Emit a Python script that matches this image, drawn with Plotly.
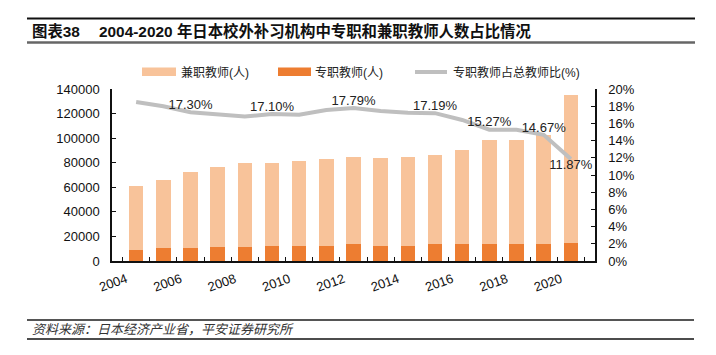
import plotly.graph_objects as go

years = [str(y) for y in range(2004, 2021)]
year_tick_text = [y if int(y) % 2 == 0 else "" for y in years]

fulltime = [9200, 10300, 10300, 11400, 11400, 12500, 12500, 12500, 13600,
            12500, 12500, 13600, 13600, 13600, 13600, 13600, 14400]
parttime = [51800, 55700, 62400, 65400, 68100, 67000, 69200, 70300, 71100,
            71100, 71900, 73000, 77000, 84900, 84900, 89000, 120700]
ratio = [0.185, 0.180, 0.1730, 0.170, 0.168, 0.1710, 0.170, 0.1755, 0.1779,
         0.1745, 0.1725, 0.1719, 0.164, 0.1527, 0.1527, 0.1467, 0.1187]
ratio_labels = ["", "", "17.30%", "", "", "17.10%", "", "", "17.79%", "", "",
                "17.19%", "", "15.27%", "", "14.67%", "11.87%"]
label_pos = ["top center"] * 16 + ["bottom center"]

left_ticks = [0, 20000, 40000, 60000, 80000, 100000, 120000, 140000]
right_ticks = [0, 0.02, 0.04, 0.06, 0.08, 0.10, 0.12, 0.14, 0.16, 0.18, 0.20]

LIGHT = "#F8C39A"
DARK = "#ED7D31"
GRAY = "#BFBFBF"
FONT = "Liberation Sans, Arial, Noto Sans CJK SC"

W, H = 716, 355
L, R, T, B = 112, 595, 89, 261


def xp(px):
    return (px - L) / (R - L)


def yp(py):
    return (B - py) / (B - T)


fig = go.Figure()
fig.add_trace(go.Bar(x=years, y=fulltime, name="专职教师(人)",
                     marker=dict(color=DARK, line=dict(width=0)),
                     showlegend=False))
fig.add_trace(go.Bar(x=years, y=parttime, name="兼职教师(人)",
                     marker=dict(color=LIGHT, line=dict(width=0)),
                     showlegend=False))
fig.add_trace(go.Scatter(x=years, y=ratio, name="专职教师占总教师比(%)",
                         yaxis="y2", mode="lines+text",
                         line=dict(color=GRAY, width=4),
                         text=ratio_labels, textposition=label_pos,
                         textfont=dict(size=13, color="#222", family=FONT),
                         showlegend=False, cliponaxis=False))

shapes = []
annotations = []

# title rules
shapes.append(dict(type="line", xref="paper", yref="paper",
                   x0=xp(27), x1=xp(695), y0=yp(18.5), y1=yp(18.5),
                   line=dict(color="#111", width=2)))
shapes.append(dict(type="line", xref="paper", yref="paper",
                   x0=xp(27), x1=xp(695), y0=yp(42.5), y1=yp(42.5),
                   line=dict(color="#666", width=2.5)))
# source rules
shapes.append(dict(type="line", xref="paper", yref="paper",
                   x0=xp(27), x1=xp(694), y0=yp(320), y1=yp(320),
                   line=dict(color="#555", width=2)))
shapes.append(dict(type="line", xref="paper", yref="paper",
                   x0=xp(27), x1=xp(694), y0=yp(339), y1=yp(339),
                   line=dict(color="#111", width=1.5)))

annotations.append(dict(xref="paper", yref="paper", x=xp(30), y=yp(31),
                        xanchor="left", yanchor="middle", showarrow=False,
                        text="<b>图表38</b>",
                        font=dict(size=15.4, color="#111", family=FONT)))
annotations.append(dict(xref="paper", yref="paper", x=xp(97), y=yp(31),
                        xanchor="left", yanchor="middle", showarrow=False,
                        text="<b>2004-2020 年日本校外补习机构中专职和兼职教师人数占比情况</b>",
                        font=dict(size=15.4, color="#111", family=FONT)))
annotations.append(dict(xref="paper", yref="paper", x=xp(30), y=yp(329.5),
                        xanchor="left", yanchor="middle", showarrow=False,
                        text="<i>资料来源：日本经济产业省，平安证券研究所</i>",
                        font=dict(size=13, color="#333", family=FONT)))

# custom legend
shapes.append(dict(type="rect", xref="paper", yref="paper",
                   x0=xp(142), x1=xp(176), y0=yp(76), y1=yp(67.5),
                   fillcolor=LIGHT, line=dict(width=0)))
annotations.append(dict(xref="paper", yref="paper", x=xp(179), y=yp(72),
                        xanchor="left", yanchor="middle", showarrow=False,
                        text="兼职教师(人)",
                        font=dict(size=12, color="#222", family=FONT)))
shapes.append(dict(type="rect", xref="paper", yref="paper",
                   x0=xp(278), x1=xp(311), y0=yp(76), y1=yp(67.5),
                   fillcolor=DARK, line=dict(width=0)))
annotations.append(dict(xref="paper", yref="paper", x=xp(313), y=yp(72),
                        xanchor="left", yanchor="middle", showarrow=False,
                        text="专职教师(人)",
                        font=dict(size=12, color="#222", family=FONT)))
shapes.append(dict(type="line", xref="paper", yref="paper",
                   x0=xp(415), x1=xp(447), y0=yp(72), y1=yp(72),
                   line=dict(color=GRAY, width=4)))
annotations.append(dict(xref="paper", yref="paper", x=xp(451), y=yp(72),
                        xanchor="left", yanchor="middle", showarrow=False,
                        text="专职教师占总教师比(%)",
                        font=dict(size=12, color="#222", family=FONT)))

fig.update_layout(
    width=W, height=H,
    margin=dict(l=L, r=W - R, t=T, b=H - B, pad=0),
    paper_bgcolor="white", plot_bgcolor="white",
    barmode="stack", bargap=0.47,
    font=dict(family=FONT, size=13, color="#111"),
    shapes=shapes, annotations=annotations,
    showlegend=False,
    xaxis=dict(type="category", tickvals=years, ticktext=year_tick_text,
               tickangle=-20, tickson="boundaries", ticks="inside",
               ticklen=4, tickcolor="#111", showline=True, linecolor="#111",
               linewidth=1.5, showgrid=False, zeroline=False,
               ticklabelshift=-10, ticklabelstandoff=4,
               tickfont=dict(size=13, family=FONT)),
    yaxis=dict(range=[0, 140000], tickvals=left_ticks, tickformat="d",
               ticks="inside", ticklen=4, tickcolor="#111",
               showline=True, linecolor="#111", linewidth=1.5,
               showgrid=False, zeroline=False, ticklabelstandoff=8,
               tickfont=dict(size=13, family=FONT)),
    yaxis2=dict(range=[0, 0.20], tickvals=right_ticks, tickformat=".0%",
                overlaying="y", side="right", ticks="inside", ticklen=4,
                tickcolor="#111", showline=True, linecolor="#111",
                linewidth=1.5, showgrid=False, zeroline=False,
                ticklabelstandoff=9, tickfont=dict(size=13, family=FONT)),
)

fig.write_html("out.html", config={"displayModeBar": False},
               post_script="document.body.style.margin='0';"
                           "document.body.style.padding='0';")
